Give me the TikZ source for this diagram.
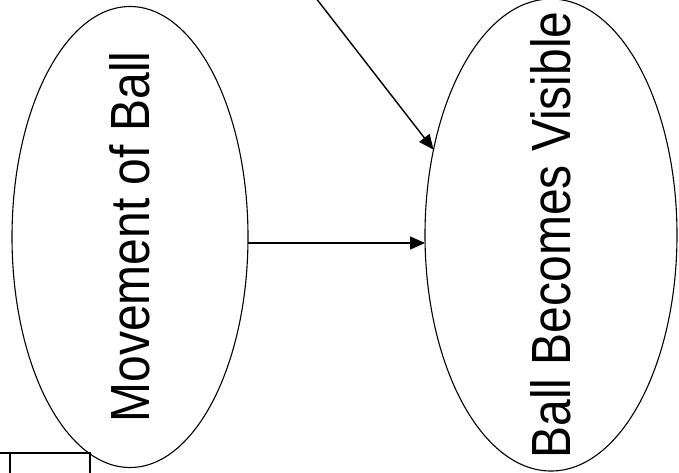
\documentclass[tikz,border=0pt]{standalone}
\usepackage{fontspec}
\setmainfont{Liberation Sans}
\usepackage{tikz}
\usetikzlibrary{shapes.geometric,arrows.meta,positioning,calc}

\begin{document}
\begin{tikzpicture}[x=1pt, y=-1pt, font=\fontsize{48}{48}\selectfont, line width=1.1pt,
  oval/.style={draw, ellipse, rotate=90, inner sep=0pt, outer sep=0pt},
  frame/.style={draw, minimum width=80pt, minimum height=64pt, inner sep=0pt},
  arr/.style={-{Triangle[length=15pt, width=13pt]}, line width=1.4pt}]
\useasboundingbox (0,0) rectangle (679,472);
\clip (0,0) rectangle (679,472);
% the two events
\node[oval, minimum width=461pt, minimum height=236pt] (move) at (130,237) {\makebox[0pt]{\scalebox{1}[1.15]{Movement of Ball}}};
\node[oval, minimum width=472pt, minimum height=252pt] (vis) at (551,235) {\makebox[0pt]{\scalebox{1}[1.15]{Ball Becomes Visible}}};
% cut-off parts at the edges
\node[frame] (boxa) at (-30,485) {};
\node[frame] (boxb) at (50,485) {};
\coordinate (src) at (312,-7);
\draw[arr] ([yshift=-6pt]move.south) -- ([yshift=-8pt]vis.north);
\draw[arr] (src) -- (vis.54);
\end{tikzpicture}
\end{document}
